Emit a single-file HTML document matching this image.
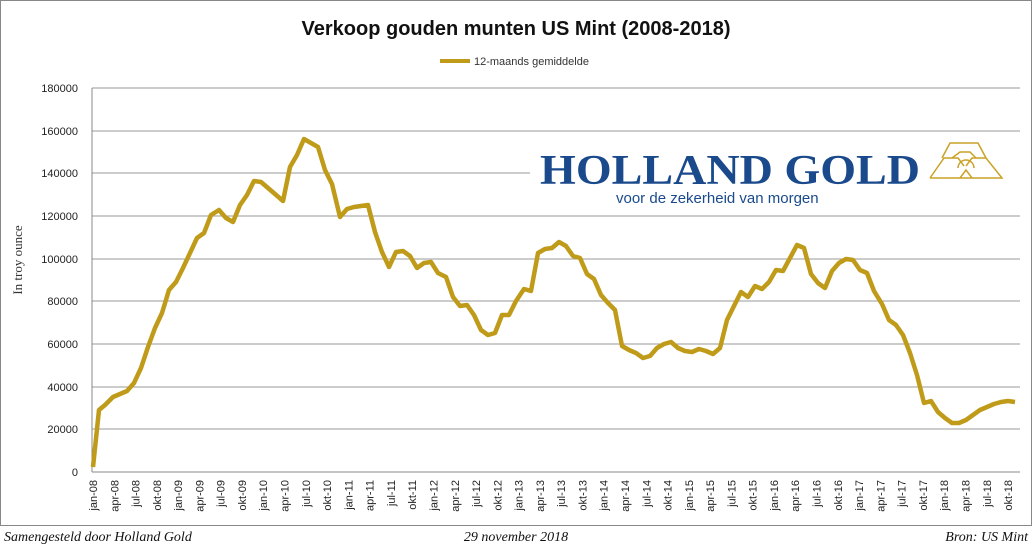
<!DOCTYPE html>
<html><head><meta charset="utf-8"><style>
body{margin:0;background:#fff;width:1033px;height:547px;overflow:hidden}
</style></head><body>
<svg width="1033" height="547" xmlns="http://www.w3.org/2000/svg" font-family="Liberation Sans, sans-serif">
<rect x="0.5" y="0.5" width="1031" height="525" fill="#fff" stroke="#888"/>
<text x="516" y="35" text-anchor="middle" font-size="20" font-weight="bold" fill="#111">Verkoop gouden munten US Mint (2008-2018)</text>
<line x1="440" y1="61" x2="470" y2="61" stroke="#bf9b19" stroke-width="4"/>
<text x="474" y="65" font-size="11" fill="#333">12-maands gemiddelde</text>
<g stroke="#999" stroke-width="1">
<line x1="92" y1="88" x2="1020" y2="88"/><line x1="92" y1="131" x2="1020" y2="131"/><line x1="92" y1="173" x2="1020" y2="173"/><line x1="92" y1="216" x2="1020" y2="216"/><line x1="92" y1="259" x2="1020" y2="259"/><line x1="92" y1="301" x2="1020" y2="301"/><line x1="92" y1="344" x2="1020" y2="344"/><line x1="92" y1="387" x2="1020" y2="387"/><line x1="92" y1="429" x2="1020" y2="429"/><line x1="92" y1="472" x2="1020" y2="472" stroke="#888"/>
<line x1="92" y1="88" x2="92" y2="472" stroke="#888"/>
</g>
<g font-size="11" fill="#222" text-anchor="end">
<text x="78" y="92">180000</text><text x="78" y="135">160000</text><text x="78" y="177">140000</text><text x="78" y="220">120000</text><text x="78" y="263">100000</text><text x="78" y="305">80000</text><text x="78" y="348">60000</text><text x="78" y="391">40000</text><text x="78" y="433">20000</text><text x="78" y="476">0</text>
</g>
<text transform="translate(22,260) rotate(-90)" text-anchor="middle" font-family="Liberation Serif, serif" font-size="13" fill="#333">In troy ounce</text>
<g font-size="11" fill="#222" text-anchor="end">
<text transform="translate(97.0,480) rotate(-90)">jan-08</text>
<text transform="translate(118.3,480) rotate(-90)">apr-08</text>
<text transform="translate(139.6,480) rotate(-90)">jul-08</text>
<text transform="translate(160.8,480) rotate(-90)">okt-08</text>
<text transform="translate(182.1,480) rotate(-90)">jan-09</text>
<text transform="translate(203.4,480) rotate(-90)">apr-09</text>
<text transform="translate(224.7,480) rotate(-90)">jul-09</text>
<text transform="translate(246.0,480) rotate(-90)">okt-09</text>
<text transform="translate(267.2,480) rotate(-90)">jan-10</text>
<text transform="translate(288.5,480) rotate(-90)">apr-10</text>
<text transform="translate(309.8,480) rotate(-90)">jul-10</text>
<text transform="translate(331.1,480) rotate(-90)">okt-10</text>
<text transform="translate(352.4,480) rotate(-90)">jan-11</text>
<text transform="translate(373.6,480) rotate(-90)">apr-11</text>
<text transform="translate(394.9,480) rotate(-90)">jul-11</text>
<text transform="translate(416.2,480) rotate(-90)">okt-11</text>
<text transform="translate(437.5,480) rotate(-90)">jan-12</text>
<text transform="translate(458.8,480) rotate(-90)">apr-12</text>
<text transform="translate(480.0,480) rotate(-90)">jul-12</text>
<text transform="translate(501.3,480) rotate(-90)">okt-12</text>
<text transform="translate(522.6,480) rotate(-90)">jan-13</text>
<text transform="translate(543.9,480) rotate(-90)">apr-13</text>
<text transform="translate(565.2,480) rotate(-90)">jul-13</text>
<text transform="translate(586.4,480) rotate(-90)">okt-13</text>
<text transform="translate(607.7,480) rotate(-90)">jan-14</text>
<text transform="translate(629.0,480) rotate(-90)">apr-14</text>
<text transform="translate(650.3,480) rotate(-90)">jul-14</text>
<text transform="translate(671.6,480) rotate(-90)">okt-14</text>
<text transform="translate(692.8,480) rotate(-90)">jan-15</text>
<text transform="translate(714.1,480) rotate(-90)">apr-15</text>
<text transform="translate(735.4,480) rotate(-90)">jul-15</text>
<text transform="translate(756.7,480) rotate(-90)">okt-15</text>
<text transform="translate(778.0,480) rotate(-90)">jan-16</text>
<text transform="translate(799.2,480) rotate(-90)">apr-16</text>
<text transform="translate(820.5,480) rotate(-90)">jul-16</text>
<text transform="translate(841.8,480) rotate(-90)">okt-16</text>
<text transform="translate(863.1,480) rotate(-90)">jan-17</text>
<text transform="translate(884.4,480) rotate(-90)">apr-17</text>
<text transform="translate(905.6,480) rotate(-90)">jul-17</text>
<text transform="translate(926.9,480) rotate(-90)">okt-17</text>
<text transform="translate(948.2,480) rotate(-90)">jan-18</text>
<text transform="translate(969.5,480) rotate(-90)">apr-18</text>
<text transform="translate(990.8,480) rotate(-90)">jul-18</text>
<text transform="translate(1012.0,480) rotate(-90)">okt-18</text>
</g>
<rect x="530" y="140" width="490" height="72" fill="#fff"/>
<text x="540" y="184" font-family="Liberation Serif, serif" font-weight="bold" font-size="42" fill="#1a4a8c" textLength="380" lengthAdjust="spacingAndGlyphs">HOLLAND GOLD</text>
<text x="616" y="203" font-size="15" fill="#1a4a8c">voor de zekerheid van morgen</text>
<g fill="none" stroke="#c9a227" stroke-width="1.5">
<path d="M930 178 L945 152 L1000 152 L1005 165 L1008 178 Z" opacity="0"/>
<path d="M930 178 L944 158 L958 158 L964 166"/>
<path d="M966 166 L972 158 L986 158 L1002 178 L930 178"/>
<path d="M942 158 L950 143 L978 143 L986 158"/>
<path d="M952 158 L960 152 L970 152 L976 158"/>
<path d="M958 168 A8 8 0 0 1 974 168"/>
<path d="M960 178 L966 170 L972 178"/>
</g>
<polyline fill="none" stroke="#bf9b19" stroke-width="4.5" stroke-linejoin="round" points="93,467 99,410 105,405 113,397 120,394 127,391 134,383 141,368 148,347 155,328 162,313 169,290 176,282 183,268 190,253 197,238 204,233 211,215 219,210 226,218 233,222 240,205 247,195 254,181 261,182 268,188 275,194 283,201 290,167 297,155 304,139 311,143 318,147 325,170 332,184 340,217 347,209 354,207 361,206 368,205 375,232 382,252 389,267 396,252 403,251 410,256 417,268 424,263 431,262 438,273 446,277 453,297 460,306 467,305 474,315 481,330 488,335 495,333 502,315 509,315 516,301 524,289 531,291 538,253 545,249 552,248 559,242 566,246 573,256 580,258 587,274 594,279 601,295 608,303 615,310 622,346 629,350 636,353 643,358 650,356 657,348 664,344 671,342 678,348 685,351 692,352 699,349 706,351 713,354 720,348 727,320 734,306 741,292 748,297 755,286 762,289 769,282 776,270 783,271 790,258 797,245 804,248 811,274 818,283 825,288 832,271 839,263 846,259 853,260 860,270 867,273 874,291 882,304 889,320 896,325 903,335 910,353 917,375 924,403 931,401 938,412 945,418 952,423 959,423 966,420 973,415 980,410 987,407 994,404 1001,402 1008,401 1015,402"/>
<g font-family="Liberation Serif, serif" font-style="italic" font-size="14" fill="#111">
<text x="4" y="541">Samengesteld door Holland Gold</text>
<text x="516" y="541" text-anchor="middle">29 november 2018</text>
<text x="1028" y="541" text-anchor="end">Bron: US Mint</text>
</g>
</svg>
</body></html>
